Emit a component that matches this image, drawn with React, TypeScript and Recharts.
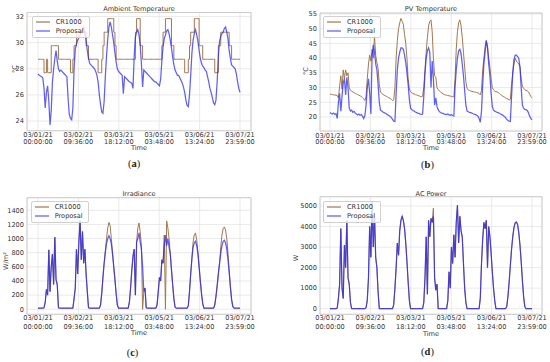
import React from 'react';
import { LineChart, Line, XAxis, YAxis, CartesianGrid, ReferenceArea, Legend } from 'recharts';

const FONT = '"DejaVu Sans", sans-serif';
const CR_COLOR = '#a07850';
const PR_COLOR = '#2222ee';

const tickHours = [0, 33.6, 67.2, 100.8, 134.4, 168];
const tickDates = ['03/01/21', '03/02/21', '03/03/21', '03/05/21', '03/06/21', '03/07/21'];
const tickTimes = ['00:00:00', '09:36:00', '18:12:00', '03:48:00', '13:24:00', '23:59:00'];

const ambientTicks = [24, 26, 28, 30, 32];
const pvTicks = [20, 25, 30, 35, 40, 45, 50, 55];
const irrTicks = [0, 200, 400, 600, 800, 1000, 1200, 1400];
const powTicks = [0, 1000, 2000, 3000, 4000, 5000];

const ambientCR1000 = [
  28.73, 28.73, 28.73, 28.73, 28.73, 27.7, 27.7, 28.73, 27.7, 27.7, 27.7, 29.77, 29.77, 29.77, 29.77, 29.77, 29.77, 28.73, 28.73, 28.73, 28.73, 28.73, 28.73, 28.73,
  28.73, 28.73, 28.73, 27.7, 27.7, 28.73, 29.77, 29.77, 30.8, 30.8, 30.8, 30.8, 30.8, 30.8, 30.8, 30.8, 29.77, 29.77, 28.73, 28.73, 28.73, 28.73, 28.73, 28.73,
  28.73, 28.73, 27.7, 27.7, 27.7, 28.73, 29.77, 30.8, 30.8, 30.8, 31.84, 31.84, 31.84, 31.84, 31.84, 30.8, 29.77, 28.73, 28.73, 28.73, 28.73, 28.73, 28.73, 28.73,
  28.73, 28.73, 28.73, 28.73, 28.73, 28.73, 28.73, 28.73, 28.73, 30.8, 31.84, 31.84, 31.84, 29.77, 29.77, 28.73, 28.73, 28.73, 28.73, 28.73, 28.73, 28.73, 28.73, 28.73,
  28.73, 28.73, 28.73, 28.73, 28.73, 28.73, 28.73, 29.77, 30.8, 30.8, 31.84, 31.84, 31.84, 31.84, 31.84, 29.77, 29.77, 28.73, 28.73, 28.73, 28.73, 28.73, 28.73, 28.73,
  28.73, 28.73, 27.7, 27.7, 27.7, 28.73, 29.77, 30.8, 30.8, 30.8, 31.84, 31.84, 31.84, 31.84, 29.77, 29.77, 29.77, 28.73, 28.73, 28.73, 28.73, 28.73, 28.73, 28.73,
  28.73, 28.73, 28.73, 27.7, 27.7, 27.7, 29.77, 29.77, 30.8, 30.8, 30.8, 30.8, 30.8, 30.8, 30.8, 29.77, 29.77, 28.73, 28.73, 28.73, 28.73, 28.73, 28.73, 28.73, 28.73,
];
const ambientProposal = [
  27.6, 27.5, 27.45, 27.4, 27.3, 26.5, 25.0, 26.2, 26.7, 25.5, 23.7, 24.8, 27.0, 28.0, 28.8, 29.4, 28.6, 28.0, 27.8, 27.9, 27.8, 27.7, 27.6, 27.5,
  27.4, 25.8, 24.5, 24.2, 24.1, 25.0, 28.0, 29.5, 29.9, 30.2, 30.4, 30.6, 30.8, 31.0, 31.2, 30.7, 30.2, 29.4, 28.8, 28.4, 28.3, 28.2, 28.1, 28.0,
  27.8, 27.5, 27.0, 26.0, 25.3, 24.7, 24.6, 25.5, 27.4, 29.0, 30.3, 31.2, 31.6, 31.2, 30.6, 30.0, 29.2, 28.5, 28.0, 27.8, 27.7, 27.6, 27.5, 26.1,
  27.4, 27.3, 27.2, 27.1, 27.0, 26.95, 26.9, 26.5, 29.0, 30.4, 30.8, 31.0, 30.6, 29.8, 28.4, 26.6, 27.9, 27.8, 27.7, 27.6, 27.5, 27.4, 27.3, 27.2,
  27.1, 27.0, 27.0, 26.9, 26.8, 26.7, 27.2, 28.6, 29.7, 30.3, 30.6, 30.9, 31.0, 30.7, 30.2, 29.6, 28.9, 28.3, 27.9, 27.7, 27.5, 27.5, 27.3, 27.1,
  26.9, 26.6, 26.2, 25.6, 25.2, 25.1, 26.0, 27.5, 29.2, 30.2, 30.7, 31.0, 30.6, 30.1, 29.4, 28.8, 28.4, 28.2, 28.1, 27.9, 27.8, 27.4, 27.0, 26.5,
  26.2, 25.8, 25.4, 25.25, 25.6, 27.0, 29.0, 30.1, 30.5, 30.7, 30.8, 31.1, 31.2, 30.8, 30.3, 29.4, 28.8, 28.3, 28.2, 28.1, 28.0, 27.6, 27.0, 26.5, 26.2,
];

const pvCR1000 = [
  27.8, 27.7, 27.6, 27.5, 27.5, 27.4, 27.3, 26.5, 30.5, 34.0, 29.5, 36.0, 33.0, 36.0, 34.0, 35.0, 30.0, 29.0, 28.8, 28.5, 28.3, 28.0, 27.8, 27.6,
  27.4, 27.2, 27.0, 26.6, 26.2, 25.6, 27.0, 33.0, 38.0, 41.0, 39.0, 43.0, 40.0, 47.5, 41.0, 38.5, 36.5, 31.0, 28.5, 28.0, 27.7, 27.4, 27.2, 27.0,
  26.8, 26.5, 26.3, 26.0, 25.6, 25.8, 30.0, 40.0, 46.0, 50.0, 52.0, 53.5, 52.5, 51.5, 48.0, 45.0, 40.0, 33.0, 29.5, 28.6, 28.2, 28.0, 27.8, 27.6,
  27.5, 27.3, 27.2, 27.0, 26.9, 27.0, 30.0, 36.0, 42.0, 47.0, 51.0, 52.5, 53.0, 49.0, 40.0, 34.0, 33.5, 30.0, 29.3, 28.8, 28.5, 28.2, 27.9, 27.6,
  27.5, 27.4, 27.3, 27.2, 27.1, 27.0, 26.9, 26.8, 33.0, 43.0, 49.0, 52.0, 53.0, 51.0, 47.0, 42.0, 37.0, 32.0, 29.8, 29.2, 29.0, 28.8, 28.7, 28.6,
  28.5, 28.4, 28.3, 28.2, 28.0, 27.5, 29.0, 36.0, 40.0, 44.0, 46.0, 44.0, 40.0, 37.0, 33.0, 30.0, 29.2, 28.8, 28.6, 28.5, 28.3, 28.0, 27.6, 27.3,
  27.0, 26.8, 26.5, 26.3, 26.1, 25.8, 26.0, 31.0, 35.0, 38.0, 40.0, 39.0, 38.5, 38.0, 37.0, 33.0, 30.5, 29.8, 29.3, 29.0, 28.9, 28.6, 27.8, 27.0, 26.5,
];
const pvProposal = [
  21.5, 21.2, 21.0, 21.3, 20.9, 21.1, 19.5, 25.0, 28.0, 22.0, 27.0, 31.5, 33.0, 27.5, 33.5, 30.0, 23.0, 22.0, 22.3, 21.6, 21.9, 21.3, 21.0, 20.7,
  21.0, 20.6, 20.8, 20.3, 19.5, 20.5, 24.0, 30.0, 33.0, 28.0, 21.0, 41.0, 44.5, 42.0, 38.0, 36.0, 31.0, 25.0, 22.3, 22.0, 21.7, 21.5, 21.3, 21.0,
  20.7, 20.5, 20.2, 19.8, 19.2, 18.6, 18.5, 28.0, 36.0, 40.0, 42.0, 43.5, 43.5, 43.0, 41.0, 38.5, 35.0, 31.0, 26.0, 23.0, 22.5, 22.2, 22.0, 21.7,
  21.5, 21.3, 21.2, 21.0, 20.9, 21.0, 27.0, 35.0, 40.0, 42.5, 43.5, 42.0, 30.0, 39.0, 33.0, 24.0, 26.5, 23.5, 22.5, 21.8, 21.5, 21.3, 21.2, 21.0,
  20.9, 20.8, 21.0, 20.7, 20.6, 20.8, 20.5, 20.3, 30.0, 36.0, 40.0, 42.5, 43.0, 41.5, 38.0, 34.0, 29.0, 24.0, 22.0, 21.8, 21.6, 21.5, 21.3, 21.1,
  21.0, 20.8, 20.6, 20.3, 19.5, 18.2, 22.0, 31.0, 38.0, 42.0, 46.0, 43.5, 38.0, 34.0, 28.0, 23.5, 22.3, 22.0, 21.8, 21.6, 21.5, 21.2, 21.0, 20.8,
  20.5, 20.2, 19.8, 19.2, 18.8, 18.6, 18.5, 27.0, 35.0, 39.5, 41.0, 41.0, 40.5, 40.0, 37.0, 30.0, 24.0, 23.0, 22.6, 22.5, 22.2, 21.5, 20.3, 19.5, 19.0,
];

const irrCR1000 = [
  15, 15, 15, 15, 15, 20, 100, 280, 200, 840, 250, 600, 780, 350, 1020, 420, 350, 20, 15, 15, 15, 15, 15, 15,
  15, 15, 15, 15, 15, 15, 150, 300, 850, 500, 950, 1260, 700, 1100, 650, 850, 500, 250, 20, 15, 15, 15, 15, 15,
  15, 15, 15, 15, 60, 220, 450, 650, 830, 1000, 1150, 1230, 1180, 1000, 800, 600, 420, 220, 60, 15, 15, 15, 15, 15,
  15, 15, 15, 15, 100, 300, 550, 750, 850, 200, 950, 1150, 1220, 1100, 900, 0, 250, 300, 20, 15, 15, 15, 15, 15,
  15, 15, 15, 60, 250, 450, 400, 700, 650, 1050, 0, 1250, 1150, 1000, 800, 560, 350, 150, 30, 15, 15, 15, 15, 15,
  15, 15, 15, 15, 15, 50, 250, 500, 720, 950, 1050, 1080, 980, 820, 600, 400, 220, 80, 15, 15, 15, 15, 15, 15,
  15, 15, 15, 60, 180, 330, 500, 650, 880, 1050, 1140, 1165, 1120, 1000, 800, 560, 320, 140, 40, 15, 15, 15, 15, 15, 15,
];
const irrProposal = [
  15, 15, 15, 15, 15, 20, 100, 280, 200, 840, 250, 600, 780, 350, 1020, 420, 350, 20, 15, 15, 15, 15, 15, 15,
  15, 15, 15, 15, 15, 15, 150, 300, 850, 500, 950, 1250, 700, 1100, 650, 850, 500, 250, 20, 15, 15, 15, 15, 15,
  15, 15, 15, 15, 60, 220, 450, 650, 800, 930, 1000, 1040, 1000, 920, 780, 600, 420, 220, 60, 15, 15, 15, 15, 15,
  15, 15, 15, 15, 100, 300, 550, 750, 850, 200, 950, 1000, 1080, 950, 850, 600, 250, 300, 20, 15, 15, 15, 15, 15,
  15, 15, 15, 60, 250, 450, 400, 700, 650, 900, 1050, 900, 1000, 880, 780, 560, 350, 150, 30, 15, 15, 15, 15, 15,
  15, 15, 15, 15, 15, 50, 250, 500, 720, 880, 940, 960, 900, 780, 600, 400, 220, 80, 15, 15, 15, 15, 15, 15,
  15, 15, 15, 60, 180, 330, 500, 650, 790, 900, 960, 975, 940, 850, 700, 520, 320, 140, 40, 15, 15, 15, 15, 15, 15,
];

const powCR1000 = [
  0, 0, 0, 0, 0, 0, 30, 500, 1200, 3900, 1000, 500, 3100, 2000, 4300, 1500, 1200, 300, 0, 0, 0, 0, 0, 0,
  0, 0, 0, 0, 0, 0, 50, 400, 1500, 4000, 2500, 5190, 3000, 4600, 2500, 2000, 800, 0, 0, 0, 0, 0, 0, 0,
  0, 0, 0, 0, 0, 200, 1000, 2000, 3200, 2600, 3800, 4300, 4500, 4300, 3900, 3200, 2300, 1300, 400, 0, 0, 0, 0, 0,
  0, 0, 0, 0, 0, 0, 300, 1500, 3500, 700, 4300, 3500, 4400, 4200, 4900, 1500, 900, 1200, 0, 0, 0, 0, 0, 0,
  0, 0, 400, 1800, 1000, 3000, 2200, 3600, 2500, 4200, 5030, 3200, 4500, 3800, 3500, 2200, 1000, 300, 0, 0, 0, 0, 0, 0,
  0, 0, 0, 0, 0, 500, 2200, 3400, 4200, 3900, 4300, 2000, 4000, 3500, 2700, 1800, 1000, 400, 0, 0, 0, 0, 0, 0,
  0, 0, 0, 100, 600, 1300, 2100, 2900, 3500, 3950, 4180, 4220, 4100, 3700, 3100, 2300, 1400, 600, 100, 0, 0, 0, 0, 0, 0,
];
const powProposal = [
  0, 0, 0, 0, 0, 0, 30, 500, 1200, 3900, 1000, 500, 3100, 2000, 4300, 1500, 1200, 300, 0, 0, 0, 0, 0, 0,
  0, 0, 0, 0, 0, 0, 50, 400, 1500, 4000, 2500, 5190, 3000, 4600, 2500, 2000, 800, 0, 0, 0, 0, 0, 0, 0,
  0, 0, 0, 0, 0, 200, 1000, 2000, 3200, 2600, 3800, 4300, 4500, 4300, 3900, 3200, 2300, 1300, 400, 0, 0, 0, 0, 0,
  0, 0, 0, 0, 0, 0, 300, 1500, 3500, 700, 4300, 3500, 4400, 4200, 4500, 1500, 900, 1200, 0, 0, 0, 0, 0, 0,
  0, 0, 400, 1800, 1000, 3000, 2200, 3600, 2500, 4200, 5030, 3200, 4500, 3800, 3500, 2200, 1000, 300, 0, 0, 0, 0, 0, 0,
  0, 0, 0, 0, 0, 500, 2200, 3400, 4200, 3900, 4300, 2000, 4000, 3500, 2700, 1800, 1000, 400, 0, 0, 0, 0, 0, 0,
  0, 0, 0, 100, 600, 1300, 2100, 2900, 3500, 3950, 4180, 4220, 4100, 3700, 3100, 2300, 1400, 600, 100, 0, 0, 0, 0, 0, 0,
];

// hourly time index of the samples
const hours = ambientProposal.map((_, i) => i);

const makeData = (cr: number[], pr: number[]) =>
  hours.map((h, i) => ({ h, cr: cr[i], pr: pr[i] }));

const ambientData = makeData(ambientCR1000, ambientProposal);
const pvData = makeData(pvCR1000, pvProposal);
const irrData = makeData(irrCR1000, irrProposal);
const powData = makeData(powCR1000, powProposal);

const TimeTick = (props: any) => {
  const { x, y, payload, dy1, dy2 } = props;
  const i = tickHours.findIndex((t) => Math.abs(t - payload.value) < 0.01);
  return (
    <g transform={`translate(${x},${y})`}>
      <text textAnchor="middle" fontSize={6.6} fill="#333" fontFamily={FONT}>
        <tspan x={0} y={dy1}>{tickDates[i]}</tspan>
        <tspan x={0} y={dy2}>{tickTimes[i]}</tspan>
      </text>
    </g>
  );
};

const LegendBox = ({ payload }: any) => (
  <div
    style={{
      background: 'rgba(255,255,255,0.8)',
      border: '0.8px solid #d0d0d0',
      borderRadius: 2,
      padding: '1px 5px 1px 2px',
      fontFamily: FONT,
      fontSize: 6.6,
      color: '#333',
    }}
  >
    {(payload || []).map((p: any) => (
      <div key={p.value} style={{ display: 'flex', alignItems: 'center', height: 9.3, lineHeight: '9.3px' }}>
        <svg width={17} height={4} style={{ marginRight: 4 }}>
          <line x1={1} y1={2} x2={15} y2={2} stroke={p.color} strokeWidth={1.2} strokeOpacity={p.value === 'Proposal' ? 0.75 : 1} />
        </svg>
        <span>{p.value}</span>
      </div>
    ))}
  </div>
);

type PanelProps = {
  left: number;
  top: number;
  width: number;
  height: number;
  margin: { top: number; right: number; bottom: number; left: number };
  yWidth: number;
  xHeight: number;
  data: any[];
  xDomain: [number, number];
  yDomain: [number, number];
  yTicks: number[];
  crType: 'linear' | 'stepAfter';
  legendLeft: number;
  legendTop: number;
  dy1: number;
  dy2: number;
};

const Panel = (p: PanelProps) => (
  <div style={{ position: 'absolute', left: p.left, top: p.top }}>
    <LineChart width={p.width} height={p.height} data={p.data} margin={p.margin}>
      <CartesianGrid stroke="#e4e4e4" strokeWidth={0.8} />
      <XAxis
        dataKey="h"
        type="number"
        domain={p.xDomain}
        ticks={tickHours}
        allowDataOverflow
        interval={0}
        height={p.xHeight}
        tickLine={false}
        axisLine={false}
        tickSize={0}
        tickMargin={0}
        tick={<TimeTick dy1={p.dy1} dy2={p.dy2} />}
      />
      <YAxis
        type="number"
        domain={p.yDomain}
        ticks={p.yTicks}
        allowDataOverflow
        interval={0}
        width={p.yWidth}
        tickLine={false}
        axisLine={false}
        tickSize={0}
        tickMargin={3}
        tick={{ fontSize: 6.6, fill: '#333', fontFamily: FONT }}
      />
      <ReferenceArea
        x1={p.xDomain[0]}
        x2={p.xDomain[1]}
        y1={p.yDomain[0]}
        y2={p.yDomain[1]}
        fill="none"
        stroke="#c4c4c4"
        strokeWidth={0.8}
        ifOverflow="visible"
      />
      <Line dataKey="cr" name="CR1000" type={p.crType} stroke={CR_COLOR} strokeWidth={1} dot={false} isAnimationActive={false} />
      <Line dataKey="pr" name="Proposal" type="linear" stroke={PR_COLOR} strokeOpacity={0.72} strokeWidth={1.25} dot={false} isAnimationActive={false} />
      <Legend
        layout="vertical"
        align="center"
        verticalAlign="middle"
        wrapperStyle={{ left: p.legendLeft, top: p.legendTop, width: 'auto', height: 'auto' }}
        content={(lp: any) => <LegendBox payload={lp.payload} />}
      />
    </LineChart>
  </div>
);

const Txt = ({ cx, cy, children, rotate = false }: any) => (
  <div
    style={{
      position: 'absolute',
      left: cx - 60,
      top: cy - 6,
      width: 120,
      height: 12,
      lineHeight: '12px',
      textAlign: 'center',
      fontSize: 6.6,
      color: '#333',
      fontFamily: FONT,
      whiteSpace: 'nowrap',
      transform: rotate ? 'rotate(-90deg)' : undefined,
      pointerEvents: 'none',
    }}
  >
    {children}
  </div>
);

const Caption = ({ cx, cy, letter }: any) => (
  <div
    style={{
      position: 'absolute',
      left: cx - 20,
      top: cy - 7,
      width: 40,
      height: 14,
      lineHeight: '14px',
      textAlign: 'center',
      fontSize: 10.5,
      color: '#222',
      fontFamily: '"Liberation Serif", "DejaVu Serif", serif',
    }}
  >
    (<b>{letter}</b>)
  </div>
);

const LEFT_X: [number, number] = [-9.15, 177.15];
const RIGHT_X: [number, number] = [-8.32, 176.32];

export default function App() {
  return (
    <div style={{ position: 'absolute', left: 0, top: 0, width: 550, height: 362, background: '#fff', overflow: 'hidden' }}>
      <Panel
        left={0} top={0} width={260} height={165}
        margin={{ top: 12.5, right: 9, bottom: 0, left: 0 }}
        yWidth={27} xHeight={34.3}
        data={ambientData} xDomain={LEFT_X} yDomain={[23.26, 32.31]} yTicks={ambientTicks}
        crType="stepAfter" legendLeft={31.7} legendTop={15.5} dy1={6.6} dy2={13.3}
      />
      <Panel
        left={275} top={0} width={275} height={165}
        margin={{ top: 13, right: 8, bottom: 0, left: 0 }}
        yWidth={45} xHeight={34}
        data={pvData} xDomain={RIGHT_X} yDomain={[15.24, 55.34]} yTicks={pvTicks}
        crType="linear" legendLeft={48} legendTop={15.5} dy1={6.6} dy2={13.3}
      />
      <Panel
        left={0} top={181} width={260} height={165}
        margin={{ top: 16.7, right: 9, bottom: 0, left: 0 }}
        yWidth={27} xHeight={31.7}
        data={irrData} xDomain={LEFT_X} yDomain={[-71, 1578]} yTicks={irrTicks}
        crType="linear" legendLeft={30.7} legendTop={19.5} dy1={6.2} dy2={14.5}
      />
      <Panel
        left={275} top={181} width={275} height={165}
        margin={{ top: 15.7, right: 8, bottom: 0, left: 0 }}
        yWidth={45} xHeight={31.7}
        data={powData} xDomain={RIGHT_X} yDomain={[-273, 5453]} yTicks={powTicks}
        crType="linear" legendLeft={48} legendTop={19.5} dy1={6.2} dy2={14.5}
      />

      <Txt cx={139} cy={8.5}>Ambient Temperature</Txt>
      <Txt cx={431} cy={9}>PV Temperature</Txt>
      <Txt cx={139} cy={194.3}>Irradiance</Txt>
      <Txt cx={431} cy={194.3}>AC Power</Txt>

      <Txt cx={15} cy={69} rotate>°C</Txt>
      <Txt cx={306} cy={71} rotate>°C</Txt>
      <Txt cx={6} cy={261} rotate>W/m²</Txt>
      <Txt cx={295.5} cy={257.7} rotate>W</Txt>

      <Txt cx={139} cy={148.3}>Time</Txt>
      <Txt cx={431} cy={148.3}>Time</Txt>
      <Txt cx={139} cy={332.7}>Time</Txt>
      <Txt cx={431} cy={333.5}>Time</Txt>

      <Caption cx={134} cy={163.5} letter="a" />
      <Caption cx={427.5} cy={165} letter="b" />
      <Caption cx={132.5} cy={353} letter="c" />
      <Caption cx={427.5} cy={351.7} letter="d" />
    </div>
  );
}
